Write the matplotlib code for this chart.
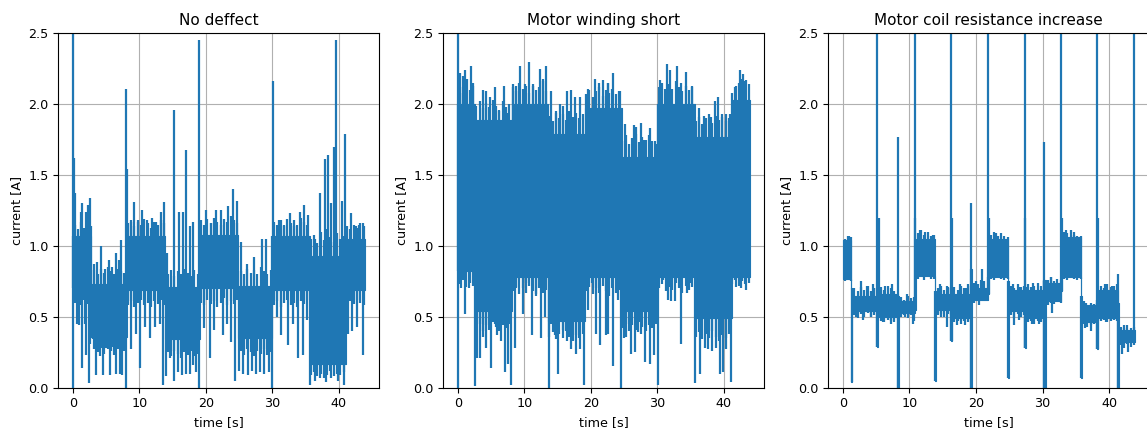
import numpy as np
import matplotlib
matplotlib.use('Agg')
import matplotlib.pyplot as plt

""" Motor current traces read off the reference picture """

titles = ['No deffect', 'Motor winding short', 'Motor coil resistance increase']

# ---- No deffect: core band per segment + spikes outside it
p1_seg_t = [0.0, 2.8, 8.1, 13.9, 19.1, 24.8, 30.0, 35.6, 41.1, 43.9]
p1_seg_lo = [0.70, 0.36, 0.69, 0.34, 0.70, 0.35, 0.69, 0.17, 0.69]
p1_seg_hi = [1.07, 0.73, 1.07, 0.71, 1.08, 0.72, 1.07, 0.93, 1.05]
p1_up_t = [0.0, 0.15, 0.3, 1.15, 1.4, 1.95, 2.35, 2.6, 3.2, 3.7, 4.2, 4.8, 5.4, 5.95,
           6.55, 6.95, 7.25, 8.0, 8.2, 8.75, 9.15, 9.75, 10.4, 11.2, 11.85, 12.55,
           13.2, 13.65, 14.2, 15.2, 15.9, 16.55, 17.05, 17.55, 18.05, 19.0, 20.05,
           20.8, 21.55, 22.3, 23.3, 24.15, 24.65, 25.3, 26.15, 27.3, 28.45, 29.0,
           30.07, 30.95, 31.8, 32.6, 33.3, 34.1, 34.7, 35.3, 36.35, 37.1, 38.0,
           38.35, 38.85, 39.35, 39.6, 40.45, 41.0, 41.85, 42.6, 43.0, 43.6]
p1_up_v = [2.6, 1.62, 1.37, 1.24, 1.30, 1.24, 1.29, 1.34, 0.87, 0.89, 1.0, 0.84, 0.90,
           0.85, 0.95, 0.90, 1.04, 2.11, 1.54, 1.17, 1.31, 1.18, 1.25, 1.18, 1.20,
           1.17, 1.24, 1.31, 0.95, 1.96, 1.24, 1.24, 1.68, 1.14, 1.17, 2.45, 1.25,
           1.16, 1.25, 1.25, 1.28, 1.40, 1.32, 1.03, 0.87, 0.92, 1.05, 1.05, 2.16,
           1.18, 1.15, 1.23, 1.14, 1.24, 1.29, 1.22, 1.05, 1.37, 1.61, 1.64, 1.30,
           1.70, 2.45, 1.32, 1.79, 1.23, 1.14, 1.15, 1.16]
p1_dn_t = [0.0, 0.55, 0.95, 1.4, 1.85, 2.05, 2.45, 2.65, 3.0, 3.55, 4.05, 4.55, 5.05,
           5.55, 6.05, 6.55, 7.05, 7.45, 7.95, 8.7, 9.45, 10.05, 10.8, 11.55, 12.3,
           13.05, 13.55, 14.05, 14.55, 15.15, 15.8, 16.45, 16.95, 17.55, 18.05,
           18.55, 18.95, 19.8, 20.7, 21.3, 22.55, 23.15, 23.8, 24.45, 25.05, 25.65,
           26.3, 26.95, 27.55, 28.15, 28.8, 29.45, 30.0, 30.65, 31.3, 32.3, 33.1,
           33.85, 34.6, 35.2, 35.6, 36.35, 37.1, 38.1, 38.85, 39.85, 40.85, 41.35,
           42.0, 42.7, 43.6]
p1_dn_v = [0.0, 0.45, 0.44, 0.14, 0.45, 0.23, 0.03, 0.31, 0.34, 0.09, 0.22, 0.09, 0.28,
           0.09, 0.29, 0.10, 0.10, 0.09, 0.0, 0.27, 0.38, 0.14, 0.43, 0.35, 0.43,
           0.45, 0.02, 0.08, 0.21, 0.05, 0.11, 0.09, 0.10, 0.10, 0.16, 0.11, 0.0,
           0.42, 0.21, 0.41, 0.37, 0.45, 0.32, 0.05, 0.12, 0.10, 0.09, 0.12, 0.10,
           0.11, 0.10, 0.11, 0.0, 0.50, 0.37, 0.30, 0.45, 0.21, 0.23, 0.48, 0.02,
           0.05, 0.07, 0.04, 0.07, 0.05, 0.02, 0.38, 0.40, 0.43, 0.23]
# ragged edge of the band, one stroke every half second (t = 0.25, 0.75, ...)
p1_rip_hi = [1.15, 1.12, 1.17, 1.13, 1.16, 1.14,
             0.83, 0.80, 0.84, 0.81, 0.85, 0.82, 0.80, 0.84, 0.82, 0.81,
             1.16, 1.18, 1.14, 1.17, 1.15, 1.19, 1.16, 1.13, 1.17, 1.15, 1.18, 1.16,
             0.80, 0.83, 0.79, 0.82, 0.80, 0.84, 0.81, 0.79, 0.83, 0.80,
             1.18, 1.15, 1.19, 1.16, 1.20, 1.17, 1.15, 1.19, 1.17, 1.21, 1.18, 1.16,
             0.82, 0.80, 0.84, 0.81, 0.83, 0.80, 0.85, 0.82, 0.80, 0.83,
             1.17, 1.15, 1.18, 1.14, 1.19, 1.16, 1.18, 1.15, 1.20, 1.17, 1.15,
             1.05, 1.08, 1.02, 1.10, 1.04, 1.12, 1.06, 1.03, 1.09, 1.05, 1.07,
             1.14, 1.12, 1.15, 1.13, 1.16, 1.14]
p1_rip_lo = [0.60, 0.63, 0.58, 0.62, 0.59, 0.61,
             0.27, 0.25, 0.28, 0.24, 0.27, 0.26, 0.23, 0.27, 0.25, 0.26,
             0.58, 0.61, 0.57, 0.60, 0.62, 0.58, 0.60, 0.57, 0.61, 0.59, 0.62, 0.58,
             0.25, 0.22, 0.26, 0.24, 0.21, 0.25, 0.23, 0.26, 0.22, 0.24,
             0.60, 0.58, 0.62, 0.59, 0.61, 0.57, 0.60, 0.63, 0.58, 0.61, 0.59, 0.62,
             0.26, 0.23, 0.27, 0.25, 0.22, 0.26, 0.24, 0.27, 0.23, 0.25,
             0.58, 0.61, 0.57, 0.60, 0.62, 0.58, 0.60, 0.57, 0.61, 0.59, 0.62,
             0.09, 0.11, 0.08, 0.10, 0.07, 0.09, 0.12, 0.08, 0.10, 0.09, 0.11,
             0.58, 0.61, 0.59, 0.62, 0.60, 0.58]

# ---- Motor winding short
p2_seg_t = [0.0, 2.5, 8.1, 13.6, 19.1, 24.7, 30.0, 35.6, 41.2, 43.9]
p2_seg_lo = [0.82, 0.54, 0.78, 0.47, 0.78, 0.54, 0.78, 0.49, 0.78]
p2_seg_hi = [2.00, 1.89, 2.00, 1.79, 1.97, 1.63, 2.00, 1.77, 2.03]
p2_up_t = [0.0, 0.3, 0.7, 1.05, 1.3, 1.95, 2.3, 3.8, 4.3, 4.8, 5.55, 6.2, 6.95, 7.55,
           8.3, 8.8, 9.3, 10.05, 10.7, 11.3, 12.3, 12.8, 13.3, 13.95, 14.8, 15.3,
           15.8, 16.45, 16.95, 17.65, 18.3, 19.55, 20.55, 21.15, 21.8, 22.6, 22.6,
           23.35, 24.35, 25.1, 26.5, 26.85, 27.5, 28.0, 28.85, 29.6, 30.35, 31.1,
           31.5, 31.85, 32.9, 33.55, 34.35, 35.2, 36.2, 36.95, 38.0, 38.6, 39.1,
           39.7, 40.35, 40.9, 41.9, 42.4, 42.9, 43.4]
p2_up_v = [2.6, 2.22, 2.20, 2.24, 2.18, 2.27, 2.15, 2.10, 2.09, 2.05, 2.12, 1.95, 2.13,
           1.94, 2.14, 2.13, 2.27, 2.14, 2.30, 2.13, 2.25, 2.18, 2.27, 2.09, 1.95,
           2.0, 1.99, 2.09, 2.10, 2.05, 2.05, 2.11, 2.18, 2.15, 2.17, 2.15, 2.15,
           2.22, 2.09, 1.86, 1.85, 1.84, 1.87, 1.75, 1.83, 1.74, 2.17, 2.11, 2.28,
           2.24, 2.27, 2.15, 2.23, 2.13, 1.97, 1.92, 1.91, 2.02, 2.05, 1.93, 1.93,
           1.93, 2.13, 2.24, 2.21, 2.17]
p2_dn_t = [0.0, 0.45, 1.05, 1.65, 2.55, 2.9, 3.3, 3.8, 4.3, 5.05, 5.55, 5.95, 6.45,
           7.05, 7.55, 8.05, 8.55, 8.8, 9.8, 10.3, 11.15, 11.8, 12.55, 13.05, 13.65,
           14.05, 14.55, 15.05, 15.8, 16.45, 17.05, 17.8, 18.3, 18.95, 19.55, 20.15,
           20.8, 21.3, 21.8, 22.55, 22.35, 23.35, 24.1, 24.6, 25.0, 25.35, 26.1,
           26.6, 27.1, 27.6, 28.2, 28.85, 29.5, 30.1, 30.9, 31.6, 32.1, 32.7, 33.6,
           34.4, 35.0, 35.6, 36.4, 37.1, 37.65, 38.2, 38.85, 39.4, 39.9, 40.4, 41.05,
           41.9, 42.65, 43.4]
p2_dn_v = [0.0, 0.70, 0.52, 0.70, 0.01, 0.21, 0.21, 0.36, 0.28, 0.14, 0.45, 0.37,
           0.33, 0.11, 0.17, 0.02, 0.28, 0.70, 0.52, 0.74, 0.37, 0.66, 0.35, 0.50,
           0.0, 0.45, 0.37, 0.10, 0.41, 0.33, 0.27, 0.24, 0.27, 0.02, 0.55, 0.74,
           0.38, 0.30, 0.84, 0.38, 0.37, 0.15, 0.62, 0.0, 0.35, 0.36, 0.24, 0.25,
           0.39, 0.38, 0.18, 0.17, 0.23, 0.02, 0.76, 0.62, 0.61, 0.61, 0.31, 0.67,
           0.74, 0.03, 0.10, 0.28, 0.27, 0.26, 0.28, 0.10, 0.11, 0.27, 0.04, 0.71,
           0.70, 0.69]
p2_rip_hi = [2.12, 2.08, 2.14, 2.10, 2.13,
             1.99, 2.02, 1.97, 2.01, 1.98, 2.03, 1.99, 1.96, 2.02, 1.98, 2.00,
             2.12, 2.09, 2.15, 2.11, 2.13, 2.08, 2.14, 2.10, 2.12, 2.16, 2.09,
             1.92, 1.88, 1.94, 1.90, 1.93, 1.89, 1.95, 1.91, 1.94, 1.90, 1.93,
             2.07, 2.10, 2.05, 2.09, 2.12, 2.06, 2.10, 2.08, 2.11, 2.07, 2.09,
             1.74, 1.78, 1.72, 1.76, 1.79, 1.73, 1.77, 1.75, 1.78, 1.74, 1.72,
             2.12, 2.15, 2.10, 2.14, 2.11, 2.16, 2.12, 2.09, 2.13, 2.10, 2.12,
             1.88, 1.91, 1.86, 1.90, 1.93, 1.87, 1.92, 1.89, 1.91, 1.88, 1.90,
             2.08, 2.12, 2.15, 2.18, 2.16, 2.14]
p2_rip_lo = [0.73, 0.76, 0.71, 0.74, 0.72,
             0.42, 0.45, 0.40, 0.44, 0.41, 0.46, 0.43, 0.40, 0.44, 0.42, 0.45,
             0.68, 0.71, 0.66, 0.70, 0.67, 0.72, 0.68, 0.65, 0.70, 0.67, 0.69,
             0.36, 0.39, 0.34, 0.38, 0.35, 0.40, 0.36, 0.33, 0.37, 0.35, 0.38,
             0.68, 0.71, 0.66, 0.70, 0.67, 0.72, 0.68, 0.65, 0.70, 0.67, 0.69,
             0.42, 0.45, 0.40, 0.44, 0.41, 0.46, 0.43, 0.40, 0.44, 0.42, 0.45,
             0.70, 0.73, 0.68, 0.71, 0.69, 0.74, 0.70, 0.67, 0.72, 0.69, 0.71,
             0.36, 0.39, 0.34, 0.38, 0.35, 0.40, 0.36, 0.33, 0.37, 0.35, 0.38,
             0.73, 0.76, 0.72, 0.75, 0.73, 0.74]

# ---- Motor coil resistance increase
p3_seg_t = [0.0, 1.3, 1.45, 5.2, 5.35, 8.25, 8.45, 10.8, 10.95, 13.9, 14.05, 16.3,
            16.45, 19.2, 19.35, 21.8, 21.95, 24.85, 25.0, 27.3, 27.45, 30.15, 30.45,
            32.8, 32.95, 35.85, 36.0, 38.2, 38.35, 41.3, 41.5, 43.85]
p3_seg_lo = [0.77, 0.04, 0.54, 0.29, 0.50, 0.0, 0.53, 0.55, 0.79, 0.05, 0.55, 0.33,
             0.49, 0.0, 0.62, 0.66, 0.78, 0.07, 0.54, 0.28, 0.49, 0.0, 0.61, 0.68,
             0.78, 0.07, 0.46, 0.27, 0.49, 0.0, 0.32]
p3_seg_hi = [1.04, 0.70, 0.65, 0.70, 0.66, 0.65, 0.61, 1.02, 1.05, 0.68, 0.66, 0.70,
             0.66, 0.84, 0.70, 1.05, 1.05, 0.75, 0.69, 0.71, 0.69, 0.76, 0.74, 1.05,
             1.06, 0.65, 0.58, 0.62, 0.69, 0.60, 0.41]
p3_up_t = [0.3, 1.0, 2.7, 3.6, 4.6, 5.2, 5.4, 6.3, 7.4, 8.3, 9.6, 10.8, 10.9, 11.6,
           12.4, 13.5, 14.6, 15.6, 16.3, 16.4, 17.6, 18.5, 19.25, 20.0, 20.9, 21.8,
           21.9, 23.0, 25.6, 26.4, 27.3, 27.4, 28.6, 30.25, 31.2, 32.8, 32.9, 33.6,
           34.8, 36.6, 37.6, 38.2, 38.3, 39.4, 40.4, 41.3, 42.3, 43.8]
p3_up_v = [1.04, 1.07, 0.75, 0.72, 0.73, 3.0, 1.2, 0.72, 0.73, 1.77, 0.66, 3.0, 1.2,
           1.11, 1.10, 1.08, 0.73, 0.72, 3.0, 1.2, 0.73, 0.70, 1.30, 0.75, 0.84, 3.0,
           1.2, 1.09, 0.73, 0.71, 3.0, 1.2, 0.74, 1.73, 0.78, 3.0, 1.2, 1.11, 1.10,
           0.60, 0.58, 3.0, 1.2, 0.73, 0.72, 0.80, 0.44, 3.0]
p3_dn_t = [1.35, 2.0, 3.1, 4.2, 5.2, 6.0, 7.2, 8.3, 9.4, 10.5, 13.9, 14.8, 15.6, 16.3,
           17.2, 18.3, 19.2, 20.4, 24.85, 25.7, 26.5, 27.3, 28.4, 29.4, 30.15, 31.4,
           35.85, 36.4, 37.3, 38.2, 39.5, 41.3, 42.0, 42.8]
p3_dn_v = [0.04, 0.50, 0.48, 0.50, 0.29, 0.46, 0.45, 0.0, 0.50, 0.45, 0.05, 0.50,
           0.43, 0.33, 0.44, 0.44, 0.0, 0.58, 0.07, 0.44, 0.48, 0.28, 0.45, 0.45,
           0.0, 0.53, 0.07, 0.42, 0.40, 0.27, 0.46, 0.0, 0.24, 0.25]
p3_rip_hi = [1.05, 1.07, 1.06,
             0.70, 0.68, 0.71, 0.69, 0.72, 0.68, 0.70,
             0.68,
             0.71, 0.69, 0.72, 0.70, 0.68,
             0.63,
             0.64, 0.62, 0.65, 0.63, 0.64,
             1.09, 1.11, 1.08, 1.10, 1.07, 1.08,
             0.70, 0.72, 0.69, 0.71, 0.70,
             0.71, 0.69, 0.72, 0.70, 0.73,
             0.72,
             0.74, 0.73, 0.76, 0.75, 0.78,
             1.08, 1.10, 1.07, 1.09, 1.07, 1.06,
             0.72, 0.70, 0.73, 0.71, 0.72,
             0.73, 0.71, 0.72, 0.74, 0.72,
             0.75,
             0.76, 0.78, 0.75, 0.77, 0.76,
             1.10, 1.09, 1.11, 1.08, 1.07, 1.07,
             0.61, 0.58, 0.60, 0.59,
             0.60,
             0.72, 0.70, 0.73, 0.71, 0.72, 0.73,
             0.43, 0.42, 0.44, 0.42, 0.43]
p3_rip_lo = [0.75, 0.76, 0.75,
             0.51, 0.49, 0.52, 0.50, 0.53, 0.50, 0.51,
             0.50,
             0.47, 0.46, 0.48, 0.47, 0.46,
             0.52,
             0.50, 0.51, 0.49, 0.51, 0.47,
             0.77, 0.78, 0.76, 0.78, 0.77, 0.77,
             0.51, 0.52, 0.50, 0.52, 0.51,
             0.46, 0.47, 0.45, 0.47, 0.46,
             0.61,
             0.60, 0.61, 0.62, 0.64, 0.66,
             0.77, 0.76, 0.78, 0.77, 0.76, 0.77,
             0.51, 0.49, 0.52, 0.50, 0.51,
             0.46, 0.47, 0.45, 0.47, 0.46,
             0.60,
             0.58, 0.60, 0.59, 0.61, 0.60,
             0.77, 0.76, 0.78, 0.77, 0.76, 0.77,
             0.45, 0.43, 0.44, 0.45,
             0.46,
             0.47, 0.48, 0.46, 0.47, 0.48, 0.47,
             0.30, 0.28, 0.31, 0.29, 0.30]

rip_t = np.arange(0.25, 44.0, 0.5)   # stroke positions for the ragged edge


def band_at(seg_t, vals, t):
    idx = np.searchsorted(seg_t, t, side='right') - 1
    idx = np.clip(idx, 0, len(vals) - 1)
    return np.asarray(vals)[idx]


def drawTrace(ax, seg_t, seg_lo, seg_hi, up_t, up_v, dn_t, dn_v,
              rip_hi, rip_lo, colour='#1f77b4'):
    seg_t = np.asarray(seg_t)
    lo = list(seg_lo) + [seg_lo[-1]]
    hi = list(seg_hi) + [seg_hi[-1]]
    ax.fill_between(seg_t, lo, hi, step='post', color=colour, lw=0.8, edgecolor=colour)
    ax.vlines(rip_t, rip_lo, rip_hi, color=colour, lw=1.6)
    # spikes leaving the core band
    up_t = np.asarray(up_t)
    dn_t = np.asarray(dn_t)
    ax.vlines(up_t, band_at(seg_t, seg_lo, up_t), up_v, color=colour, lw=1.6)
    ax.vlines(dn_t, dn_v, band_at(seg_t, seg_hi, dn_t), color=colour, lw=1.6)


fig = plt.figure(figsize=(11.47, 4.28), dpi=100)

panels = [(p1_seg_t, p1_seg_lo, p1_seg_hi, p1_up_t, p1_up_v, p1_dn_t, p1_dn_v, p1_rip_hi, p1_rip_lo),
          (p2_seg_t, p2_seg_lo, p2_seg_hi, p2_up_t, p2_up_v, p2_dn_t, p2_dn_v, p2_rip_hi, p2_rip_lo),
          (p3_seg_t, p3_seg_lo, p3_seg_hi, p3_up_t, p3_up_v, p3_dn_t, p3_dn_v, p3_rip_hi, p3_rip_lo)]

lefts = [0.0508, 0.3865, 0.7221]
for k, data in enumerate(panels):
    ax = fig.add_axes([lefts[k], 0.0942, 0.2799, 0.828])
    drawTrace(ax, *data)
    t0, t1 = data[0][0], data[0][-1]
    pad = 0.05 * (t1 - t0)
    ax.set_xlim(t0 - pad, t1 + pad)
    ax.set_ylim(0, 2.5)
    ax.grid(True)
    ax.set_axisbelow(True)
    ax.tick_params(labelsize=9.2)
    ax.set_title(titles[k], fontsize=11)
    ax.set_xlabel('time [s]', fontsize=9.2)
    ax.set_ylabel('current [A]', fontsize=9.2)

fig.savefig('out.png', dpi=100)
